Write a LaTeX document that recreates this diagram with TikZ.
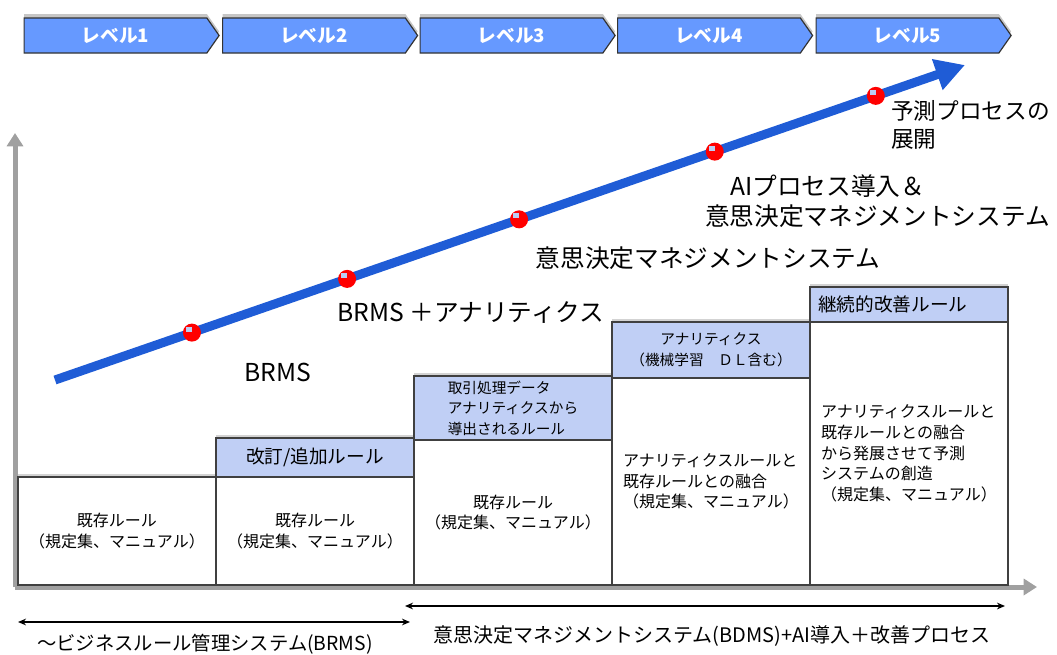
\documentclass[tikz,border=0pt]{standalone}
\usepackage{fontspec}
\setmainfont{Noto Sans CJK JP}
\usetikzlibrary{arrows.meta,shapes.symbols,shadows,calc}
\definecolor{lvblue}{RGB}{102,153,255}
\definecolor{linblue}{RGB}{31,92,214}
\definecolor{hdrblue}{RGB}{192,207,245}
\definecolor{axgray}{RGB}{160,160,160}
\begin{document}
\begin{tikzpicture}[x=0.75pt,y=-0.75pt,
  shad/.style={drop shadow={shadow xshift=0pt,shadow yshift=2.2pt,opacity=.35}},
  level/.style={signal, signal to=east, signal from=nowhere, signal pointer angle=110,
    draw=black!80, line width=0.9pt, fill=lvblue, minimum width=146.25pt,
    minimum height=26.25pt, inner sep=0pt, text=white,
    font=\fontsize{14}{16}\selectfont\bfseries, drop shadow={shadow xshift=0pt,shadow yshift=3pt,opacity=.45}},
  box/.style={draw=black!75, line width=0.8pt, minimum width=148.5pt, inner sep=0pt,
    align=center, font=\fontsize{12}{15.5}\selectfont},
  body/.style={box, fill=white, shad},
  hdr/.style={box, fill=hdrblue, shad},
  big/.style={font=\fontsize{18.5}{21}\selectfont, inner sep=0pt},
  dot/.style={circle, fill=red, minimum size=13.5pt, inner sep=0pt,
    path picture={\fill[white!70!linblue] ($(path picture bounding box.center)+(-6,-6)$) rectangle ($(path picture bounding box.center)+(0,-1)$);}},
  axis/.style={axgray, line width=3.75pt, -{Triangle[length=10pt,width=12pt]}},
  span/.style={black, line width=1.1pt, {Stealth[length=6pt,width=5pt]}-{Stealth[length=6pt,width=5pt]}},
  foot/.style={font=\fontsize{14.5}{16}\selectfont, inner sep=0pt}
]
\useasboundingbox (0,0) rectangle (1057,654);
% level chevrons
\node[level] (L1) at (115.5,35.5) {レベル1};
\node[level] (L2) at (314,35.5) {レベル2};
\node[level] (L3) at (511.5,35.5) {レベル3};
\node[level] (L4) at (709,35.5) {レベル4};
\node[level] (L5) at (907.5,35.5) {レベル5};
% axes
\coordinate (o) at (15,587);
\coordinate (yt) at (15,133);
\coordinate (xt) at (1037,587);
\draw[axis] (o) -- (yt);
\draw[axis] (o) -- (xt);
% bodies
\node[body, minimum height=81pt] (b1) at (117,531) {既存ルール\\（規定集、マニュアル）};
\node[body, minimum height=81pt] (b2) at (315,531) {既存ルール\\（規定集、マニュアル）};
\node[body, minimum height=108.75pt] (b3) at (513,512.5) {既存ルール\\（規定集、マニュアル）};
\node[body, minimum height=155.25pt, align=left] (b4) at (711,481.5) {アナリティクスルールと\\既存ルールとの融合\\（規定集、マニュアル）};
\node[body, minimum height=197.25pt, align=left] (b5) at (909,453.5) {アナリティクスルールと\\既存ルールとの融合\\から発展させて予測\\システムの創造\\（規定集、マニュアル）};
% headers
\node[hdr, minimum height=29.25pt, font=\fontsize{14}{16}\selectfont] (h2) at (315,457.5) {改訂/追加ルール};
\node[hdr, minimum height=48pt, align=left, font=\fontsize{11}{15.4}\selectfont] (h3) at (513,408) {取引処理データ\\アナリティクスから\\導出されるルール};
\node[hdr, minimum height=42pt, font=\fontsize{11}{15.4}\selectfont] (h4) at (711,350) {アナリティクス\\（機械学習　ＤＬ含む）};
\node[hdr, minimum height=26.25pt, inner xsep=6pt, text width=136.5pt, align=left, font=\fontsize{14}{16}\selectfont] (h5) at (909,304.5) {継続的改善ルール};
% growth arrow
\coordinate (s) at (55,380);
\coordinate (e) at (965,65);
\draw[linblue, line width=6.75pt, -{Triangle[length=22pt,width=23pt]}] (s) -- (e);
\node[dot] (d1) at ($(s)!0.1505!(e)$) {};
\node[dot] (d2) at ($(s)!0.321!(e)$) {};
\node[dot] (d3) at ($(s)!0.51!(e)$) {};
\node[dot] (d4) at ($(s)!0.725!(e)$) {};
\node[dot] (d5) at ($(s)!0.902!(e)$) {};
% stage labels
\node[big] (t1) at (278,372) {BRMS};
\node[big] (t2) at (471,313) {BRMS ＋アナリティクス};
\node[big] (t3) at (708,258) {意思決定マネジメントシステム};
\node[big, anchor=west] (t4a) at (730,186) {AIプロセス導入＆};
\node[big, anchor=west] (t4b) at (705,216) {意思決定マネジメントシステム};
\node[big, anchor=north west, align=left, font=\fontsize{17}{21}\selectfont] (t5) at (891,100) {予測プロセスの\\展開};
% spans
\coordinate (p1) at (18,622);
\coordinate (p2) at (410,622);
\coordinate (q1) at (405,606);
\coordinate (q2) at (1005,606);
\draw[span] (p1) -- (p2);
\draw[span] (q1) -- (q2);
\node[foot] (f1) at (205,644) {～ビジネスルール管理システム(BRMS)};
\node[foot, font=\fontsize{15}{16}\selectfont] (f2) at (712,636) {意思決定マネジメントシステム(BDMS)+AI導入＋改善プロセス};
\end{tikzpicture}
\end{document}
